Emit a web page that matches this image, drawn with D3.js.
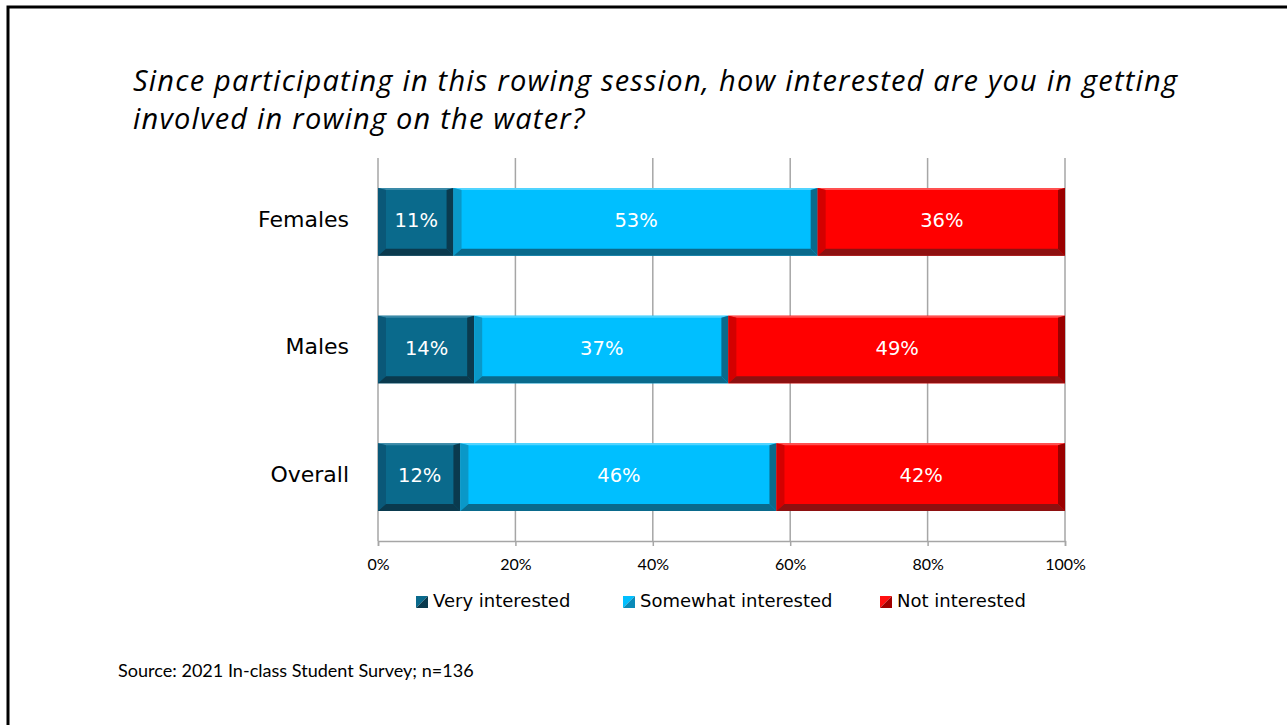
<!DOCTYPE html>
<html><head><meta charset="utf-8">
<script src="https://cdn.jsdelivr.net/npm/d3@7"></script>
<style>body{margin:0;background:#fff;}svg{display:block;}</style>
</head><body>
<script>
const categories = ["Females", "Males", "Overall"];
const seriesNames = ["Very interested", "Somewhat interested", "Not interested"];
const veryInterested = [11, 14, 12];
const somewhatInterested = [53, 37, 46];
const notInterested = [36, 49, 42];
const tickValues = [0, 20, 40, 60, 80, 100];
const titleLines = ["Since participating in this rowing session, how interested are you in getting", "involved in rowing on the water?"];
const sourceText = "Source: 2021 In-class Student Survey; n=136";

const palettes = [
  {main:"#0a6a8c", top:"#3a8aa8", left:"#0a5878", right:"#0a3a4e", bottom:"#0a3a4e"},
  {main:"#00bfff", top:"#50d4ff", left:"#0a98c8", right:"#0a6a8c", bottom:"#0a6a8c"},
  {main:"#ff0000", top:"#ff5050", left:"#d40000", right:"#9a0000", bottom:"#8e1010"}
];

const W = 1287, H = 725;
const svg = d3.select("body").append("svg").attr("width", W).attr("height", H);

// frame
svg.append("path").attr("d", `M8,725 L8,7 L1287,7`).attr("fill","none").attr("stroke","#000").attr("stroke-width",3);

function fitFont(sel, target){
  const fs = +sel.attr("font-size");
  const w = sel.node().getComputedTextLength();
  if (w > 0) sel.attr("font-size", fs * target / w);
}

// title
const title = svg.append("text").attr("font-family","'Open Sans', sans-serif").attr("font-style","italic").attr("font-size",27).attr("fill","#000");
const t1 = title.append("tspan").attr("x",133).attr("y",91).text(titleLines[0]);
title.append("tspan").attr("x",133).attr("y",129).text(titleLines[1]);
{
  const w = t1.node().getComputedTextLength();
  const fs = 27 * 1044 / w;
  title.attr("font-size", Math.min(fs, 29)).attr("letter-spacing", 0);
  const w2 = t1.node().getComputedTextLength();
  const ls = (1044 - w2) / (titleLines[0].length - 1);
  title.attr("letter-spacing", ls);
}

const x = d3.scaleLinear().domain([0,100]).range([378,1065]);
const y = d3.scaleBand().domain(categories).range([158,541]).paddingInner(0.47).paddingOuter(0.235);

// gridlines
svg.append("g").selectAll("line").data(tickValues).join("line")
  .attr("x1", d=>x(d)).attr("x2", d=>x(d)).attr("y1",158).attr("y2",541)
  .attr("stroke","#a6a6a6").attr("stroke-width",1.5);

// bottom axis
const axis = svg.append("g").attr("transform","translate(0,541)")
  .call(d3.axisBottom(x).tickValues(tickValues).tickSize(5).tickFormat(d=>d+"%"));
axis.select(".domain").attr("stroke","#a6a6a6").attr("stroke-width",1.5);
axis.selectAll(".tick line").attr("stroke","#a6a6a6").attr("stroke-width",1.5);
axis.selectAll(".tick text").attr("font-family","Lato, sans-serif").attr("font-size",16).attr("fill","#000").attr("y",15).attr("dy","0.9em");

// category labels
svg.append("g").selectAll("text").data(categories).join("text")
  .attr("x",349).attr("y", d=>y(d)+y.bandwidth()/2 - 3).attr("dy","0.36em")
  .attr("text-anchor","end").attr("font-family","'DejaVu Sans', sans-serif").attr("font-size",22).attr("fill","#000")
  .text(d=>d);

// stacked data
const rows = categories.map((c,i)=>({cat:c, v:[veryInterested[i], somewhatInterested[i], notInterested[i]]}));
const segs = [];
rows.forEach(r=>{ let acc=0; r.v.forEach((v,k)=>{ segs.push({cat:r.cat, k, v, x0:acc, x1:acc+v}); acc+=v; }); });

const bt = 2, bl = 8, br = 7, bb = 7;
const g = svg.append("g");
segs.forEach(s=>{
  const X0 = x(s.x0), X1 = x(s.x1), Y0 = y(s.cat), Y1 = y(s.cat)+y.bandwidth();
  const p = palettes[s.k];
  const sg = g.append("g");
  sg.append("rect").attr("x",X0).attr("y",Y0).attr("width",X1-X0).attr("height",Y1-Y0).attr("fill",p.main);
  const poly = (pts, fill)=> sg.append("polygon").attr("points", pts.map(q=>q.join(",")).join(" ")).attr("fill",fill);
  poly([[X0,Y0],[X1,Y0],[X1-br,Y0+bt],[X0+bl,Y0+bt]], p.top);
  poly([[X0,Y0],[X0+bl,Y0+bt],[X0+bl,Y1-bb],[X0,Y1]], p.left);
  poly([[X1,Y0],[X1,Y1],[X1-br,Y1-bb],[X1-br,Y0+bt]], p.right);
  poly([[X0,Y1],[X0+bl,Y1-bb],[X1-br,Y1-bb],[X1,Y1]], p.bottom);
  sg.append("text").attr("x",(X0+bl+X1-br)/2).attr("y",(Y0+Y1)/2 - 2).attr("dy","0.36em")
    .attr("text-anchor","middle").attr("font-family","'DejaVu Sans', sans-serif").attr("font-size",19.5)
    .attr("fill","#fff").text(s.v+"%");
});

// legend
const legendX = [416, 623, 880];
const lg = svg.append("g");
seriesNames.forEach((n,k)=>{
  const lx = legendX[k], ly = 596, s = 12, p = palettes[k];
  lg.append("polygon").attr("points",`${lx},${ly} ${lx+s},${ly} ${lx},${ly+s}`).attr("fill", k===2? "#ff1010" : p.main);
  lg.append("polygon").attr("points",`${lx+s},${ly} ${lx+s},${ly+s} ${lx},${ly+s}`).attr("fill", k===0? "#0a3a4e" : k===1 ? "#0a8ab8" : "#a00000");
  lg.append("text").attr("x",lx+17).attr("y",ly+s/2 - 1).attr("dy","0.36em")
    .attr("font-family","'DejaVu Sans', sans-serif").attr("font-size",18).attr("fill","#000").text(n);
});

// source
const src = svg.append("text").attr("x",118).attr("y",677).attr("font-family","Lato, 'Open Sans', sans-serif").attr("font-size",17).attr("fill","#000").text(sourceText);
fitFont(src, 356);
</script>
</body></html>
